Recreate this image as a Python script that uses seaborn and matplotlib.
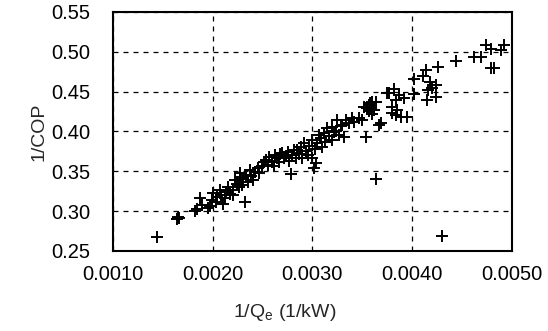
import matplotlib
matplotlib.use("Agg")
import matplotlib.pyplot as plt
import seaborn as sns

# 1/Qe (1/kW) and 1/COP
inv_qe = [
    0.00144, 0.00164, 0.00165, 0.00166, 0.00182, 0.00184, 0.00187, 0.00189,
    0.00195, 0.00197, 0.00199, 0.00200, 0.00203, 0.00204, 0.00207, 0.00208,
    0.00210, 0.00212, 0.00213, 0.00215, 0.00217, 0.00220, 0.00220, 0.00222,
    0.00224, 0.00226, 0.00227, 0.00227, 0.00229, 0.00230, 0.00232, 0.00233,
    0.00235, 0.00237, 0.00238, 0.00240, 0.00242, 0.00245, 0.00247, 0.00250,
    0.00252, 0.00254, 0.00256, 0.00257, 0.00260, 0.00262, 0.00263, 0.00265,
    0.00267, 0.00268, 0.00270, 0.00272, 0.00274, 0.00276, 0.00277, 0.00279,
    0.00280, 0.00282, 0.00284, 0.00285, 0.00287, 0.00289, 0.00290, 0.00292,
    0.00294, 0.00296, 0.00297, 0.00300, 0.00300, 0.00302, 0.00303, 0.00304,
    0.00305, 0.00307, 0.00309, 0.00310, 0.00312, 0.00313, 0.00315, 0.00317,
    0.00320, 0.00320, 0.00322, 0.00324, 0.00325, 0.00327, 0.00329, 0.00330,
    0.00332, 0.00334, 0.00337, 0.00340, 0.00342, 0.00347, 0.00350, 0.00352,
    0.00354, 0.00355, 0.00357, 0.00357, 0.00358, 0.00359, 0.00360, 0.00360,
    0.00362, 0.00364, 0.00364, 0.00367, 0.00369, 0.00375, 0.00377, 0.00380,
    0.00380, 0.00382, 0.00384, 0.00384, 0.00385, 0.00387, 0.00389, 0.00392,
    0.00395, 0.00402, 0.00402, 0.00411, 0.00414, 0.00415, 0.00416, 0.00418,
    0.00420, 0.00424, 0.00424, 0.00426, 0.00430, 0.00444, 0.00462, 0.00469,
    0.00474, 0.00479, 0.00479, 0.00482, 0.00489, 0.00492,
]
inv_cop = [
    0.267, 0.290, 0.293, 0.291, 0.300, 0.303, 0.317, 0.308,
    0.304, 0.306, 0.314, 0.323, 0.311, 0.318, 0.327, 0.320,
    0.309, 0.317, 0.324, 0.330, 0.322, 0.327, 0.320, 0.339,
    0.334, 0.330, 0.343, 0.348, 0.333, 0.340, 0.311, 0.345,
    0.337, 0.352, 0.344, 0.339, 0.349, 0.354, 0.348, 0.356,
    0.361, 0.364, 0.358, 0.368, 0.362, 0.357, 0.370, 0.366,
    0.361, 0.372, 0.373, 0.366, 0.369, 0.374, 0.363, 0.346,
    0.370, 0.377, 0.367, 0.377, 0.372, 0.381, 0.367, 0.386,
    0.376, 0.371, 0.382, 0.367, 0.389, 0.354, 0.378, 0.360,
    0.385, 0.396, 0.392, 0.381, 0.398, 0.387, 0.404, 0.394,
    0.406, 0.389, 0.399, 0.400, 0.414, 0.396, 0.407, 0.408,
    0.393, 0.414, 0.411, 0.417, 0.412, 0.417, 0.414, 0.431,
    0.393, 0.430, 0.433, 0.425, 0.436, 0.428, 0.437, 0.422,
    0.427, 0.340, 0.437, 0.408, 0.411, 0.448, 0.448, 0.431,
    0.423, 0.453, 0.440, 0.421, 0.427, 0.446, 0.418, 0.442,
    0.418, 0.466, 0.447, 0.470, 0.477, 0.440, 0.452, 0.462,
    0.454, 0.458, 0.443, 0.481, 0.269, 0.488, 0.494, 0.494,
    0.509, 0.503, 0.480, 0.480, 0.502, 0.509,
]

x_ticks = [0.0010, 0.0020, 0.0030, 0.0040, 0.0050]
y_ticks = [0.25, 0.30, 0.35, 0.40, 0.45, 0.50, 0.55]

sns.set_style("white")
plt.rcParams["font.family"] = ["Liberation Sans", "DejaVu Sans"]
plt.rcParams["mathtext.fontset"] = "custom"
plt.rcParams["mathtext.rm"] = "Liberation Sans"

fig = plt.figure(figsize=(5.48, 3.31), dpi=100)
ax = fig.add_axes([0.206, 0.242, 0.728, 0.722])

sns.scatterplot(x=inv_qe, y=inv_cop, marker="+", color="black",
                s=65, linewidth=1.4, ax=ax, zorder=3)

ax.set_xlim(0.0010, 0.0050)
ax.set_ylim(0.25, 0.55)
ax.set_xticks(x_ticks)
ax.set_yticks(y_ticks)
ax.set_xticklabels([f"{v:.4f}" for v in x_ticks])
ax.set_yticklabels([f"{v:.2f}" for v in y_ticks])
ax.tick_params(axis="both", length=0, labelsize=14.5, colors="black")
ax.tick_params(axis="x", pad=10)
ax.tick_params(axis="y", pad=16)

ax.grid(True, color="black", linestyle=(0, (4, 4)), linewidth=0.9)
for sp in ax.spines.values():
    sp.set_color("black")
    sp.set_linewidth(1.5)

ax.set_xlabel(r"1/Q$_\mathregular{e}$ (1/kW)", fontsize=14)
ax.xaxis.set_label_coords(0.43, -0.215)
ax.set_ylabel("1/COP", fontsize=14, labelpad=3)

fig.savefig("out.png", dpi=100)
